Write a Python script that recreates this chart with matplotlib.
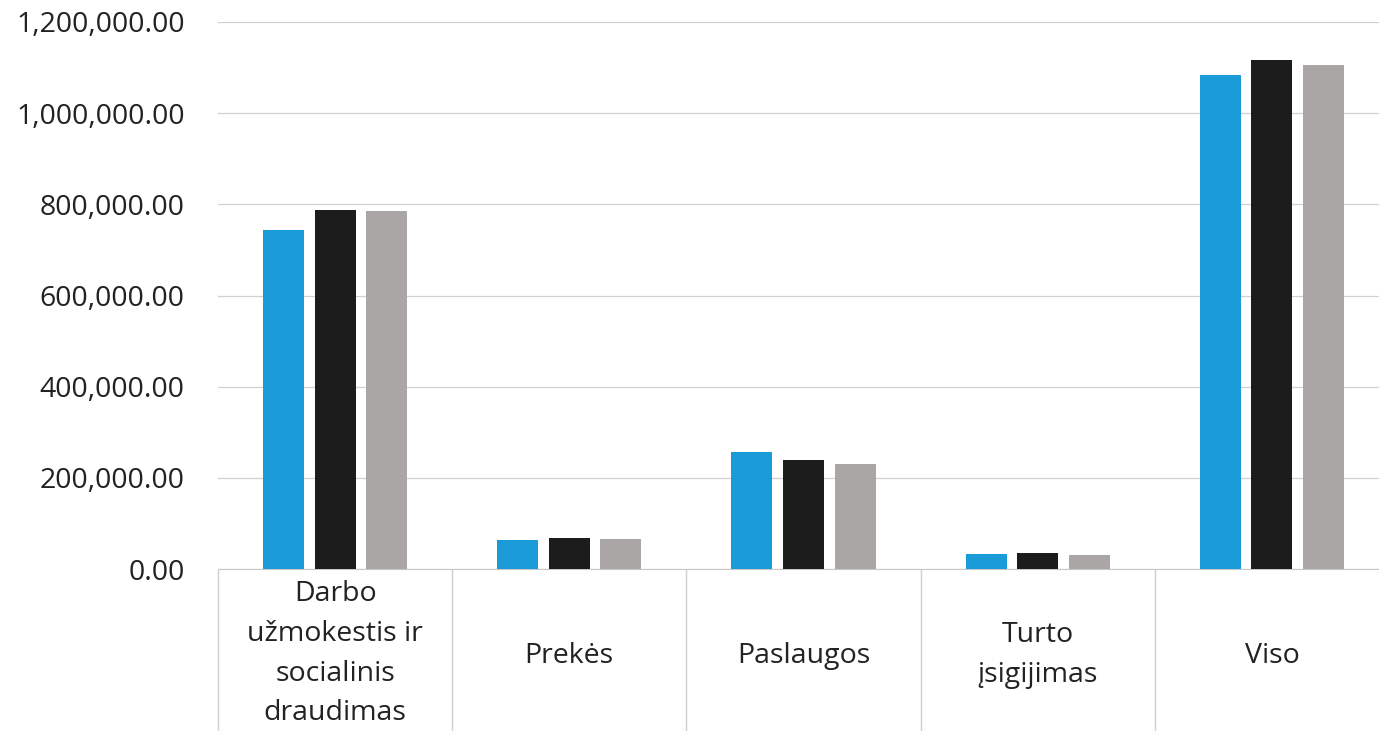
import numpy as np
import matplotlib.pyplot as plt
from matplotlib.ticker import FuncFormatter

# duomenys
kategorijos = ['Darbo\nužmokestis ir\nsocialinis\ndraudimas', 'Prekės', 'Paslaugos', 'Turto\nįsigijimas', 'Viso']
serija_1 = [743000, 63000, 256000, 32000, 1083000]
serija_2 = [787000, 68000, 240000, 35000, 1116000]
serija_3 = [785000, 65000, 230000, 30000, 1105000]
spalvos = ['#1a9ad6', '#1c1c1c', '#aaa6a6']

plt.rcParams['font.family'] = ['Open Sans', 'DejaVu Sans']

fig = plt.figure(figsize=(13.79, 7.31), dpi=100)
ax = fig.add_axes([218/1379, (731-569)/731, 1171/1379, (569-22)/731])

x = np.arange(len(kategorijos))
plotis = 0.175
poslinkis = 0.22
for i, (serija, sp) in enumerate(zip([serija_1, serija_2, serija_3], spalvos)):
    ax.bar(x + (i - 1) * poslinkis, serija, width=plotis, color=sp, zorder=3)

ax.set_xlim(-0.5, len(kategorijos) - 0.5)
ax.set_ylim(0, 1200000)
ax.set_yticks(np.arange(0, 1200001, 200000))
ax.yaxis.set_major_formatter(FuncFormatter(lambda v, p: f'{v:,.2f}'))
ax.grid(axis='y', color='#d0d0d0', linewidth=0.9, zorder=0)

for s in ['top', 'right', 'left']:
    ax.spines[s].set_visible(False)
ax.spines['bottom'].set_color('#c8c8c8')

ax.set_xticks(x)
ax.set_xticklabels(kategorijos, fontsize=20.5, linespacing=1.56, color='#222222')
ax.tick_params(axis='x', which='major', length=0, pad=8)
ax.set_xticks(np.arange(-0.5, len(kategorijos), 1), minor=True)
ax.tick_params(axis='x', which='minor', length=170, color='#cfcfcf', width=1)
ax.tick_params(axis='y', length=0, pad=24, labelsize=20.5, labelcolor='#222222')

# centruoti vieno/dvieju eiluciu uzrasus vertikaliai
for lbl in ax.get_xticklabels():
    n = lbl.get_text().count('\n') + 1
    if n < 4:
        lbl.set_y(-(4 - n) * 0.0378)

plt.savefig('out.png', dpi=100)
